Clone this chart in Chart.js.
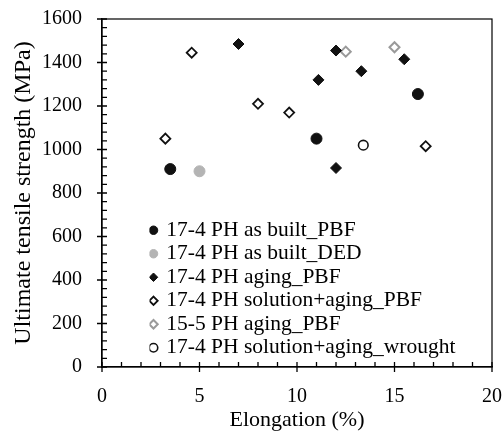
<!DOCTYPE html>
<html>
<head>
<meta charset="utf-8">
<script src="https://cdn.jsdelivr.net/npm/chart.js@4.4.1/dist/chart.umd.min.js"></script>
<style>
	html, body { margin: 0; padding: 0; background: #ffffff; }
	#wrap { width: 504px; height: 433px; }
</style>
</head>
<body>
<div id="wrap"><canvas id="uts_canvas" width="504" height="433"></canvas></div>
<script>
// Elongation (%) / UTS (MPa), one pair of arrays per series
var asBuiltPbfX = [3.5, 11.0, 16.2];
var asBuiltPbfY = [910, 1050, 1255];
var asBuiltDedX = [5.0];
var asBuiltDedY = [900];
var agingPbfX = [7.0, 12.0, 11.1, 13.3, 15.5, 12.0];
var agingPbfY = [1485, 1455, 1320, 1360, 1415, 915];
var solAgingPbfX = [3.25, 4.6, 8.0, 9.6, 16.6];
var solAgingPbfY = [1050, 1445, 1210, 1170, 1015];
var ph155AgingX = [12.5, 15.0];
var ph155AgingY = [1450, 1470];
var wroughtX = [13.4];
var wroughtY = [1020];

var seriesLabels = [
	'17-4 PH as built_PBF',
	'17-4 PH as built_DED',
	'17-4 PH aging_PBF',
	'17-4 PH solution+aging_PBF',
	'15-5 PH aging_PBF',
	'17-4 PH solution+aging_wrought'
];
var xTickLabels = [0, 5, 10, 15, 20];
var yTickLabels = [0, 200, 400, 600, 800, 1000, 1200, 1400, 1600];

var serif = "'Liberation Serif', 'Times New Roman', serif";

function toPoints(xs, ys){
	var pts = [];
	for(var i = 0; i < xs.length; i++){ pts.push({x: xs[i], y: ys[i]}); }
	return pts;
}

// major ticks cross the axis, minor ticks point inwards
var tickMarks = {
	id: 'tickMarks',
	afterDraw: function(chart){
		var ctx = chart.ctx;
		var area = chart.chartArea;
		var xs = chart.scales.x, ys = chart.scales.y;
		ctx.save();
		ctx.strokeStyle = '#000';
		ctx.lineWidth = 1.2;
		ctx.strokeRect(area.left, area.top, area.right - area.left, area.bottom - area.top);
		ctx.lineWidth = 1.3;
		ctx.beginPath();
		xs.ticks.forEach(function(t){
			var px = xs.getPixelForValue(t.value);
			var major = xTickLabels.indexOf(t.value) >= 0;
			ctx.moveTo(px, area.bottom + (major ? 5 : 0));
			ctx.lineTo(px, area.bottom - 5);
		});
		ys.ticks.forEach(function(t){
			var py = ys.getPixelForValue(t.value);
			var major = yTickLabels.indexOf(t.value) >= 0;
			ctx.moveTo(area.left - (major ? 5 : 0), py);
			ctx.lineTo(area.left + 5, py);
		});
		ctx.stroke();
		ctx.restore();
	}
};

// legend sits in the lower left of the plot
var legendShift = {
	id: 'legendShift',
	afterLayout: function(chart){
		var lg = chart.legend;
		var area = chart.chartArea;
		var w = lg.right - lg.left;
		lg.left = area.left + 47.5;
		lg.right = lg.left + w;
		var h = lg.bottom - lg.top;
		lg.bottom = area.bottom - 6.5;
		lg.top = lg.bottom - h;
	}
};

var ctx = document.getElementById('uts_canvas').getContext('2d');
var utsChart = new Chart(ctx, {
	type: 'scatter',
	data: {
		datasets: [
			{ label: seriesLabels[0], data: toPoints(asBuiltPbfX, asBuiltPbfY), pointStyle: 'circle', pointRadius: 5.5,
				backgroundColor: '#111111', borderColor: '#111111', borderWidth: 1 },
			{ label: seriesLabels[1], data: toPoints(asBuiltDedX, asBuiltDedY), pointStyle: 'circle', pointRadius: 5.5,
				backgroundColor: '#b4b4b4', borderColor: '#b4b4b4', borderWidth: 1 },
			{ label: seriesLabels[2], data: toPoints(agingPbfX, agingPbfY), pointStyle: 'rectRot', pointRadius: 5.5,
				backgroundColor: '#111111', borderColor: '#111111', borderWidth: 1 },
			{ label: seriesLabels[3], data: toPoints(solAgingPbfX, solAgingPbfY), pointStyle: 'rectRot', pointRadius: 5,
				backgroundColor: '#ffffff', borderColor: '#111111', borderWidth: 1.8 },
			{ label: seriesLabels[4], data: toPoints(ph155AgingX, ph155AgingY), pointStyle: 'rectRot', pointRadius: 5,
				backgroundColor: '#ffffff', borderColor: '#9a9a9a', borderWidth: 2 },
			{ label: seriesLabels[5], data: toPoints(wroughtX, wroughtY), pointStyle: 'circle', pointRadius: 4.8,
				backgroundColor: '#ffffff', borderColor: '#111111', borderWidth: 1.6 }
		]
	},
	options: {
		responsive: false,
		animation: false,
		layout: { padding: { top: 19, right: 12, left: 0, bottom: 0 } },
		scales: {
			x: {
				type: 'linear', min: 0, max: 20,
				afterFit: function(s){ s.height = 66; s.paddingLeft = 0; s.paddingRight = 0; },
				ticks: {
					stepSize: 1, autoSkip: false, maxRotation: 0, padding: 18, color: '#000',
					font: { family: serif, size: 20 },
					callback: function(v){ return xTickLabels.indexOf(v) >= 0 ? String(v) : ''; }
				},
				grid: { display: true, drawOnChartArea: false, drawTicks: false },
				border: { display: true, color: '#000', width: 1.3 },
				title: { display: true, text: 'Elongation (%)', color: '#000', font: { family: serif, size: 22 }, padding: { top: 0, bottom: 0 } }
			},
			y: {
				type: 'linear', min: 0, max: 1600,
				afterFit: function(s){ s.width = 102; s.paddingTop = 0; s.paddingBottom = 0; },
				ticks: {
					stepSize: 40, autoSkip: false, padding: 20, color: '#000',
					font: { family: serif, size: 20 },
					callback: function(v){ return yTickLabels.indexOf(v) >= 0 ? String(v) : ''; }
				},
				grid: { display: true, drawOnChartArea: false, drawTicks: false },
				border: { display: true, color: '#000', width: 1.3 },
				title: { display: true, text: 'Ultimate tensile strength (MPa)', color: '#000', font: { family: serif, size: 24 }, padding: { top: 9, bottom: 0 } }
			}
		},
		plugins: {
			legend: {
				display: true,
				position: 'chartArea',
				align: 'end',
				labels: {
					usePointStyle: true,
					boxWidth: 4,
					boxHeight: 6,
					padding: 2,
					color: '#000',
					font: { family: serif, size: 21.5 }
				}
			},
			tooltip: { enabled: false }
		}
	},
	plugins: [tickMarks, legendShift]
});
</script>
</body>
</html>
